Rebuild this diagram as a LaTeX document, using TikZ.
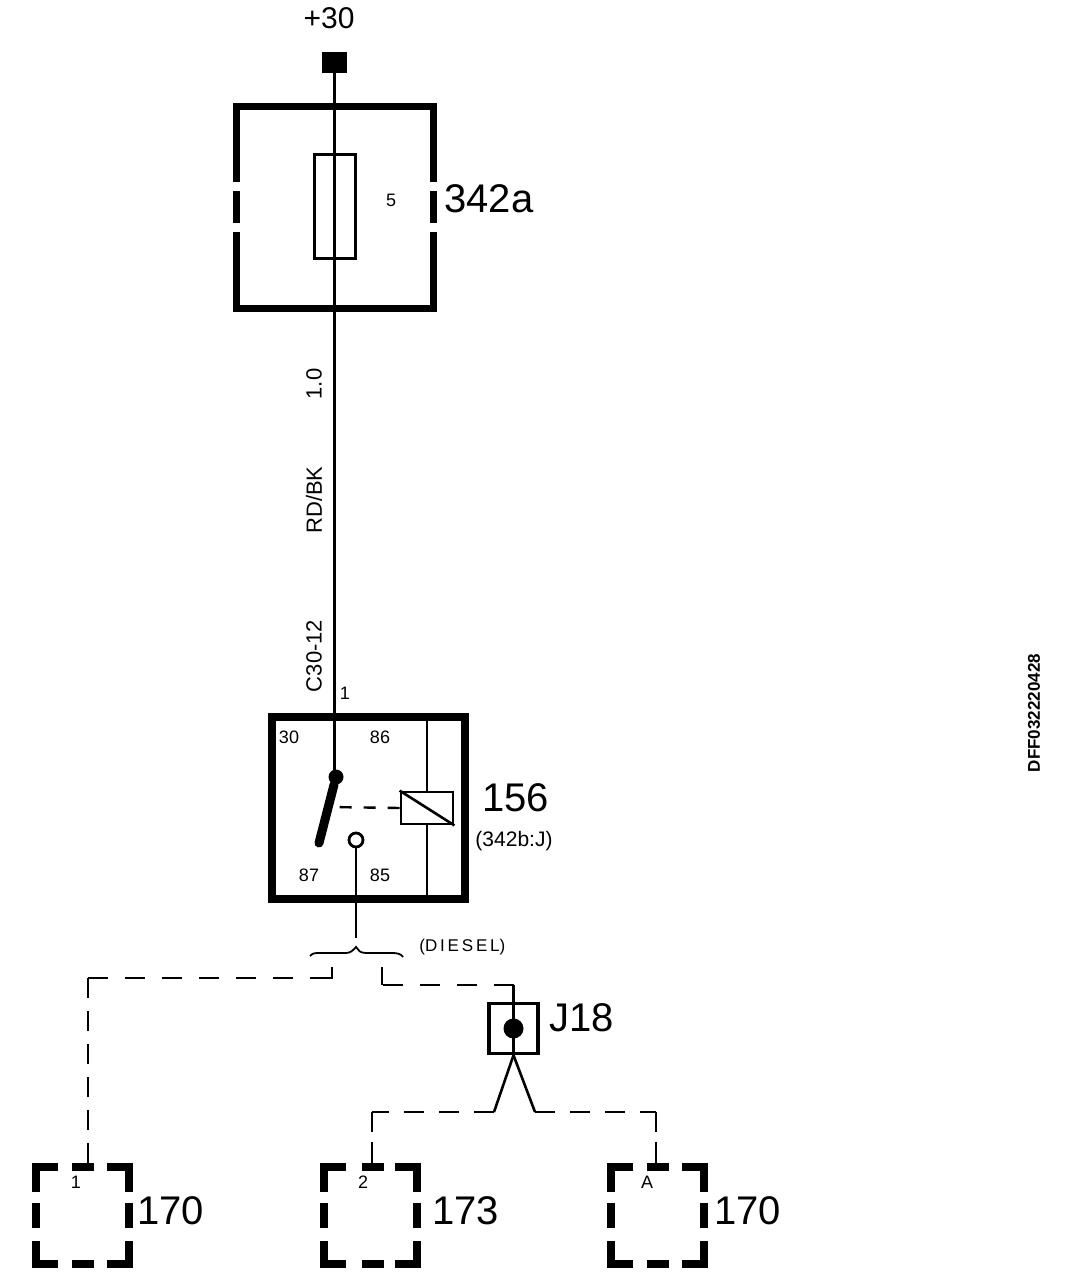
\documentclass[tikz,border=0pt]{standalone}
\usepackage{fontspec}
\setmainfont{Liberation Sans}
\tikzset{
  wire/.style={line width=1.3pt},
  heavy/.style={line width=3.8pt},
  dashwire/.style={line width=1.2pt,dash pattern=on 10pt off 8.5pt},
  lowdash/.style={line width=1.2pt,dash pattern=on 10pt off 7.5pt},
  tall/.style={line width=1.2pt,dash pattern=on 10pt off 6.5pt},
  stub/.style={line width=1.2pt,dash pattern=on 10.5pt off 5pt},
  big/.style={font=\fontsize{20}{20}\selectfont,inner sep=0pt},
  mid/.style={font=\fontsize{15}{15}\selectfont,inner sep=0pt},
  tiny/.style={font=\fontsize{9}{9}\selectfont,inner sep=0pt},
  wirelab/.style={font=\fontsize{11}{11}\selectfont,inner sep=0pt,rotate=90},
  tab/.style={fill=black,inner sep=0pt,minimum width=11pt,minimum height=4pt},
}
\begin{document}
\begin{tikzpicture}[x=0.5pt,y=-0.5pt]
\useasboundingbox (0,0) rectangle (1088,1278);
\node[fill=black,inner sep=0pt,minimum width=12.5pt,minimum height=10.5pt] (term) at (334.5,62.5) {};
\node[mid] (plus) at (329,18) {+30};
\path[draw,heavy] (236.5,182) -- (236.5,106.5) -- (433.5,106.5) -- (433.5,182);
\path[draw,heavy] (236.5,232) -- (236.5,308.5) -- (433.5,308.5) -- (433.5,232);
\path[draw,heavy] (236.5,191) -- (236.5,223);
\path[draw,heavy] (433.5,191) -- (433.5,223);
\node[draw,line width=1.2pt,inner sep=0pt,minimum width=20.5pt,minimum height=52pt] (fuse) at (335,206.5) {};
\node[tiny] (amp) at (391,200) {5};
\node[big,anchor=west] (fusename) at (444,199) {342a};
\node[draw,heavy,inner sep=0pt,minimum width=96.5pt,minimum height=91pt] (relay) at (368.5,808) {};
\node[wirelab] (size) at (314,384) {1.0};
\node[wirelab] (colour) at (314,500) {RD/BK};
\node[wirelab] (conn) at (314,656) {C30-12};
\node[tiny] (pin) at (345,693) {1};
\node[tiny] (p30) at (289,737) {30};
\node[tiny] (p86) at (380,737) {86};
\node[tiny] (p87) at (309,875) {87};
\node[tiny] (p85) at (380,875) {85};
\node[circle,fill=black,inner sep=0pt,minimum size=7.5pt] (pivot) at (336,777) {};
\coordinate (armend) at (319,843);
\path[draw,wire] (term) -- (term |- pivot);
\path[draw,line width=4.5pt,line cap=round] (pivot) -- (armend);
\node[circle,draw,line width=1.4pt,fill=white,inner sep=0pt,minimum size=7pt] (contact) at (356,840) {};
\node[draw,line width=1.4pt,inner sep=0pt,minimum width=26pt,minimum height=16pt] (coil) at (427,808) {};
\path[draw,line width=1.3pt] (coil.north west) -- (coil.south east);
\path[draw,wire] (relay.north -| coil) -- (coil.north);
\path[draw,wire] (coil.south) -- (relay.south -| coil);
\coordinate (arm) at (329,807);
\path[draw,line width=1.2pt,dash pattern=on 6pt off 6pt] (coil.west) -- (arm);
\node[big,anchor=west] (relayname) at (482,798) {156};
\node[font=\fontsize{10.5}{11}\selectfont,inner sep=0pt] (relayloc) at (514,841) {(342b:J)};
\coordinate (brace) at (356,947);
\coordinate (drop) at (356,938);
\path[draw,wire] (contact) -- (drop);
\path[draw,line width=0.9pt] (310,956) .. controls (312,952) and (320,953) .. (330,953) -- (346,953) .. controls (351,953) and (353,950) .. (brace) .. controls (358,950) and (360,953) .. (366,953) -- (392,953) .. controls (398,953) and (401,954) .. (403,957);
\node[font=\fontsize{8.5}{9}\selectfont,inner sep=0pt,anchor=west] (variant) at (419,947) {(D\,I\,E\,S\,E\,L)};
\node[draw,line width=1.7pt,inner sep=0pt,minimum width=24.5pt,minimum height=25pt] (splice) at (513.5,1028.5) {};
\node[circle,fill=black,inner sep=0pt,minimum width=10pt] (dot) at (513.5,1028.5) {};
\node[big,anchor=west] (splicename) at (549,1018) {J18};
\coordinate (left1) at (332,967);
\coordinate (left2) at (88,978);
\coordinate (left3) at (310,978);
\coordinate (right1) at (382,967);
\coordinate (right2) at (513.5,985);
\coordinate (right3) at (382,985);
\coordinate (legl) at (494,1112);
\coordinate (legr) at (535,1112);
\coordinate (cornl) at (372,1112);
\coordinate (cornr) at (656,1112);
\foreach \n/\x/\w/\b/\a/\c/\l/\t in {1/32/88/51/44/105/1/170,2/320/372/53/43/112/2/173,3/607/656/51/40/107/A/170} {
  \begin{scope}[shift={(\x,1163)}]
  \path[draw,heavy] (4,29) -- (4,4) -- (26,4);
  \path[draw,heavy] (75,4) -- (97,4) -- (97,29);
  \path[draw,heavy] (4,40) -- (4,65);
  \path[draw,heavy] (97,40) -- (97,65);
  \path[draw,heavy] (4,78) -- (4,101) -- (26,101);
  \path[draw,heavy] (75,101) -- (97,101) -- (97,78);
  \node[tab] (tab\n) at (\b,4) {};
  \node[tab] (low\n) at (\b,101) {};
  \node[tiny] (lab\n) at (\a,19) {\l};
  \node[big,anchor=west] (num\n) at (\c,48) {\t};
  \end{scope}
  \coordinate (pin\n) at (\w,1163);
}
\path[draw,tall] (left2) -- (pin1);
\path[draw,dashwire] (left2) -- (left3);
\path[draw,wire] (left3) -| (left1);
\path[draw,dashwire] (right2) -- (right3);
\path[draw,wire] (right3) -- (right1);
\path[draw,wire] (right2) -- (splice.north);
\path[draw,wire] (splice.north) -- (splice.south);
\path[draw,wire] (splice.south) -- (legl);
\path[draw,wire] (splice.south) -- (legr);
\path[draw,lowdash] (legl) -- (cornl);
\path[draw,lowdash] (legr) -- (cornr);
\path[draw,stub] (pin2) -- (cornl);
\path[draw,stub] (pin3) -- (cornr);
\node[font=\fontsize{8.5}{8.5}\selectfont\bfseries,inner sep=0pt,rotate=90] (code) at (1034,713) {DFF032220428};
\end{tikzpicture}
\end{document}
